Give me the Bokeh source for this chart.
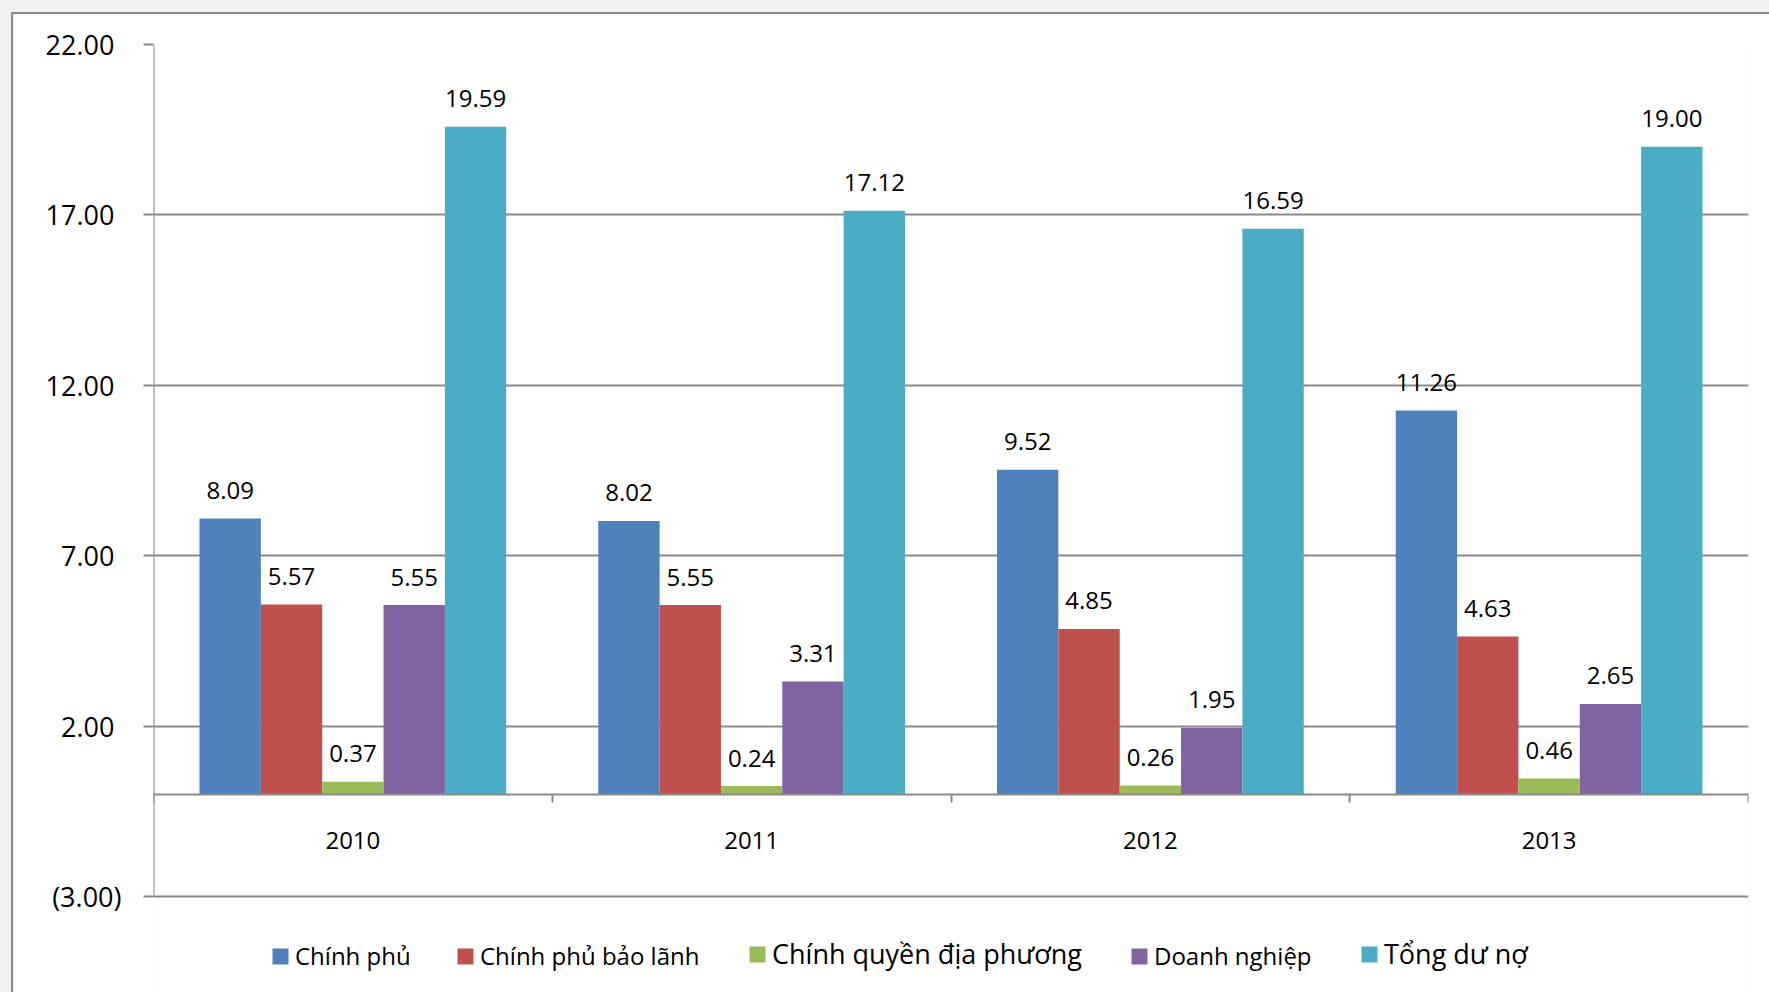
from bokeh.plotting import figure
from bokeh.models import (Range1d, FixedTicker, LinearAxis, Legend, LegendItem, Grid)
from bokeh.layouts import column
from bokeh.embed import file_html
from bokeh.resources import INLINE
from bokeh.core.properties import value

years = ["2010", "2011", "2012", "2013"]
series_names = ["Chính phủ", "Chính phủ bảo lãnh", "Chính quyền địa phương",
                "Doanh nghiệp", "Tổng dư nợ"]
chinh_phu = [8.09, 8.02, 9.52, 11.26]
chinh_phu_bao_lanh = [5.57, 5.55, 4.85, 4.63]
chinh_quyen_dia_phuong = [0.37, 0.24, 0.26, 0.46]
doanh_nghiep = [5.55, 3.31, 1.95, 2.65]
tong_du_no = [19.59, 17.12, 16.59, 19.00]
series_values = [chinh_phu, chinh_phu_bao_lanh, chinh_quyen_dia_phuong,
                 doanh_nghiep, tong_du_no]
colors = ["#4F81BD", "#C0504D", "#9BBB59", "#8064A2", "#4BACC6"]
y_ticks = [-3, 2, 7, 12, 17, 22]
y_tick_labels = ["(3.00)", "2.00", "7.00", "12.00", "17.00", "22.00"]

# legend layout (pixel offsets from the plot-area left edge, label sizes)
legend_x = [117, 302, 594, 976, 1206]
legend_font = ["24px", "24px", "27px", "24px", "27px"]

FONT = "Open Sans"
GRID = "#898989"
n_cat = len(years)
n_ser = len(series_names)
bar_w = 1.0 / (n_ser + 1.5)  # Excel gap width 150%

# layout (pixels): plot area for the value axis, plus room below it for the legend
AXIS_PX = 852
BELOW_PX = 96
y_span = y_ticks[-1] - y_ticks[0]
y_start = y_ticks[0] - BELOW_PX * y_span / AXIS_PX

p = figure(width=1758, height=980,
           x_range=Range1d(0, n_cat), y_range=Range1d(y_start, y_ticks[-1]),
           x_axis_type=None, y_axis_type=None,
           output_backend="svg", toolbar_location=None,
           min_border_left=140, min_border_right=23,
           min_border_top=30, min_border_bottom=2,
           border_fill_color="white", background_fill_color="white",
           outline_line_color=None)

# y axis (line drawn separately so it stops at the lowest tick)
# accounting style: positive labels leave room for the closing parenthesis
yticker = FixedTicker(ticks=y_ticks)
overrides = {t: (l if l.endswith(")") else l + "\u2008")
             for t, l in zip(y_ticks, y_tick_labels)}
yaxis = LinearAxis(ticker=yticker,
                   major_label_overrides=overrides,
                   axis_line_color=None,
                   major_tick_line_color=GRID, major_tick_line_width=2,
                   major_tick_in=0, major_tick_out=10,
                   minor_tick_line_color=None,
                   major_label_standoff=22,
                   major_label_text_font=FONT,
                   major_label_text_font_size="27px",
                   major_label_text_color="black")
p.add_layout(yaxis, "left")
p.add_layout(Grid(dimension=1, ticker=yticker, grid_line_color=GRID, grid_line_width=2))
p.segment(x0=[0], y0=[y_ticks[0]], x1=[0], y1=[y_ticks[-1]],
          line_color=GRID, line_width=2)

# bars and value labels
renderers = []
for k, (name, vals, col) in enumerate(zip(series_names, series_values, colors)):
    xs = [i + 0.5 + (k - (n_ser - 1) / 2) * bar_w for i in range(n_cat)]
    r = p.vbar(x=xs, top=vals, bottom=0, width=bar_w, fill_color=col, line_color=None)
    p.text(x=xs, y=vals, text=[f"{v:.2f}" for v in vals],
           text_align="center", text_baseline="alphabetic", y_offset=-28,
           text_font=value(FONT), text_font_size="24px", text_color="black")
    renderers.append(r)

# category axis at zero: tick dividers (no labels)
div_ticks = list(range(n_cat + 1))
tick_axis = LinearAxis(ticker=FixedTicker(ticks=div_ticks),
                       major_label_overrides={t: "" for t in div_ticks},
                       fixed_location=0,
                       axis_line_color=GRID, axis_line_width=2,
                       major_tick_line_color=GRID, major_tick_line_width=2,
                       major_tick_in=0, major_tick_out=8,
                       minor_tick_line_color=None)
p.add_layout(tick_axis, "below")
# category labels
label_axis = LinearAxis(ticker=FixedTicker(ticks=[i + 0.5 for i in range(n_cat)]),
                        major_label_overrides={i + 0.5: y for i, y in enumerate(years)},
                        fixed_location=0,
                        axis_line_color=None, major_tick_line_color=None,
                        minor_tick_line_color=None,
                        major_tick_in=0, major_tick_out=0,
                        major_label_standoff=38,
                        major_label_text_font=FONT,
                        major_label_text_font_size="24px",
                        major_label_text_color="black")
p.add_layout(label_axis, "below")

# legend: one entry per Legend so each label can keep its own size
for name, r, lx, fs in zip(series_names, renderers, legend_x, legend_font):
    lg = Legend(items=[LegendItem(label=name, renderers=[r])],
                location=(lx, 20), padding=0, margin=0,
                glyph_width=20, glyph_height=20, label_standoff=5,
                label_height=33,
                label_text_font=FONT, label_text_font_size=fs,
                label_text_color="black",
                border_line_color=None, background_fill_alpha=0)
    p.add_layout(lg)

p.margin = (12, 0, 0, 11)
p.styles = {"border-left": "2px solid #8c8c8c", "border-top": "2px solid #8c8c8c"}
page = column(p, styles={"background-color": "#f0f0f0"})

open("out.html", "w").write(file_html(page, INLINE))
